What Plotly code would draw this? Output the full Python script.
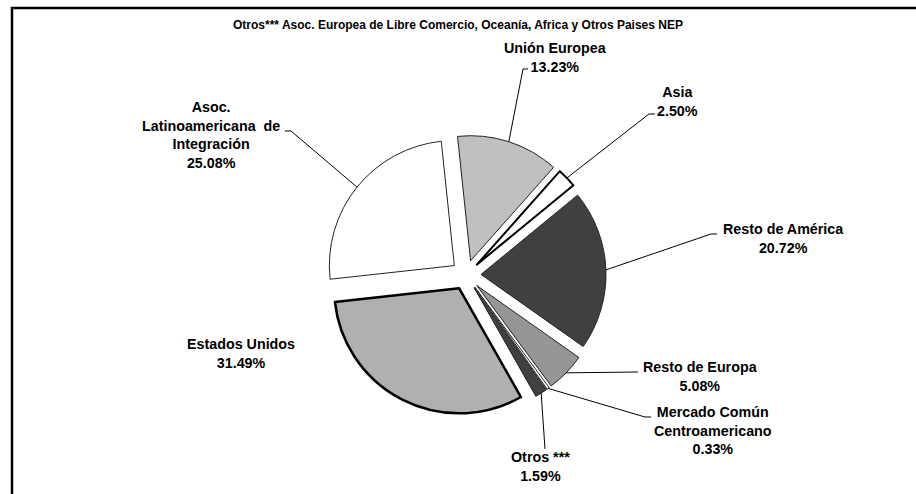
import math
import plotly.graph_objects as go

# ---------------- data ----------------
labels = ["Unión Europea", "Asia", "Resto de América", "Resto de Europa",
          "Mercado Común Centroamericano", "Otros ***", "Estados Unidos",
          "Asoc. Latinoamericana de Integración"]
values = [13.23, 2.50, 20.72, 5.08, 0.33, 1.59, 31.49, 25.08]
label_text = ["Unión Europea<br>13.23%", "Asia<br>2.50%", "Resto de América<br>20.72%",
              "Resto de Europa<br>5.08%", "Mercado Común<br>Centroamericano<br>0.33%",
              "Otros ***<br>1.59%", "Estados Unidos<br>31.49%",
              "Asoc.<br>Latinoamericana  de<br>Integración<br>25.08%"]
title_text = "Otros*** Asoc. Europea de Libre Comercio, Oceanía, Africa y Otros Paises NEP"

# ---------------- styles ----------------
colors = ["#c0c0c0", "#ffffff", "#404040", "#969696", "#ffffff", "#404040", "#b0b0b0", "#ffffff"]
line_w = [1, 2, 1, 1, 1, 1, 2.5, 1]
line_c = ["#222222", "#000000", "#222222", "#222222", "#222222", "#222222", "#000000", "#222222"]

W, H = 916, 494
PULL = 0.12
ROT = -6
PIE_CX, PIE_CY, PIE_R = 466, 275, 125
dom_x = [(PIE_CX - 170) / W, (PIE_CX + 170) / W]
box_h = 2 * PIE_R * (1 + PULL)
dom_y = [(H - PIE_CY - box_h / 2) / H, (H - PIE_CY + box_h / 2) / H]

# plotly's own pie geometry (r = min(box)/(2+2*maxPull))
bw = W * (dom_x[1] - dom_x[0])
bh = H * (dom_y[1] - dom_y[0])
R = min(bw, bh) / (2 + 2 * PULL)
CX = W * (dom_x[0] + dom_x[1]) / 2
CY = H * (1 - (dom_y[0] + dom_y[1]) / 2)

# label block centres (px) and leader start points (px, label side)
label_pos = [(555, 57), (677, 101), (783, 238), (700, 376), (713, 430),
             (540, 466), (241, 353), (211, 135)]
leader_pts = [[(528, 69), (523, 69)], [(655, 114), (649, 114)], [(717, 234), (711, 234)],
              [(638, 372)], [(651, 417), (645, 417)], [(545, 449)], None,
              [(285, 131), (291, 131)]]

FONT = "Liberation Sans, Arial, sans-serif"

fig = go.Figure()
fig.add_trace(go.Pie(
    labels=labels, values=values, sort=False, direction="clockwise",
    rotation=ROT, pull=[PULL] * len(values),
    marker=dict(colors=colors, line=dict(color=line_c, width=line_w)),
    textinfo="none", hoverinfo="label+percent", showlegend=False,
    domain=dict(x=dom_x, y=dom_y),
))

def px2paper(x, y):
    return x / W, 1 - y / H

total = sum(values)
acc = 0.0
shapes = []
annotations = []
for i, v in enumerate(values):
    mid = math.radians(ROT + 360 * (acc + v / 2) / total)
    acc += v
    ex = CX + R * (1 + PULL) * math.sin(mid)
    ey = CY - R * (1 + PULL) * math.cos(mid)
    lx, ly = label_pos[i]
    px, py = px2paper(lx, ly)
    annotations.append(dict(x=px, y=py, xref="paper", yref="paper", text="<b>%s</b>" % label_text[i],
                            showarrow=False, xanchor="center", yanchor="middle",
                            font=dict(family=FONT, size=14.3, color="#000000")))
    if leader_pts[i]:
        pts = leader_pts[i] + [(ex, ey)]
        path = "M " + " L ".join("%f,%f" % px2paper(a, b) for a, b in pts)
        shapes.append(dict(type="path", xref="paper", yref="paper", path=path,
                           line=dict(color="#000000", width=1)))

annotations.append(dict(x=458 / W, y=1 - 25 / H, xref="paper", yref="paper",
                        text="<b>%s</b>" % title_text, showarrow=False,
                        xanchor="center", yanchor="middle",
                        font=dict(family=FONT, size=12, color="#000000")))

# chart frame
shapes.append(dict(type="rect", xref="paper", yref="paper",
                   x0=12 / W, x1=1.05, y0=-0.05, y1=1 - 8 / H,
                   line=dict(color="#000000", width=2.5)))

fig.update_layout(width=W, height=H, margin=dict(l=0, r=0, t=0, b=0),
                  paper_bgcolor="#ffffff", plot_bgcolor="#ffffff",
                  shapes=shapes, annotations=annotations)
fig.write_html("out.html", config={"displayModeBar": False},
               post_script="document.body.style.margin='0px';")
